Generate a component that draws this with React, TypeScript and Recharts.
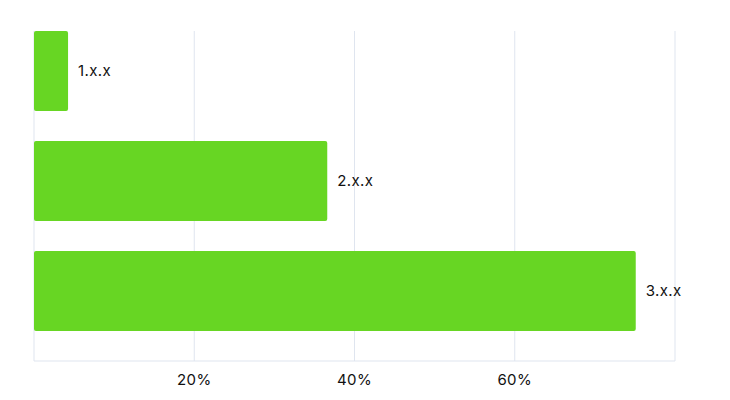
import React from 'react';
import { BarChart, Bar, XAxis, YAxis, CartesianGrid, LabelList } from 'recharts';

const versions = ['1.x.x', '2.x.x', '3.x.x'];
const shares = [4.25, 36.6, 75.1];
const xTicks = [0, 20, 40, 60, 80];

const data = versions.map((version, i) => ({ version, share: shares[i] }));

const font = 'Inter, "Noto Sans", sans-serif';

export default function App() {
  return (
    <div style={{ position: 'absolute', left: 0, top: 0, background: '#fff' }}>
      <BarChart
        width={730}
        height={400}
        data={data}
        layout="vertical"
        margin={{ top: 31, right: 55, left: 34, bottom: 9 }}
      >
        <CartesianGrid horizontal={false} stroke="#dfe5ef" />
        <XAxis
          type="number"
          domain={[0, 80]}
          ticks={xTicks}
          height={30}
          tickSize={0}
          tickMargin={13}
          axisLine={{ stroke: '#dfe5ef' }}
          tickFormatter={(v: number) => (v === 0 || v === 80 ? '' : `${v}%`)}
          tick={{ fill: '#111', fontSize: 15, fontFamily: font, letterSpacing: 0.4 }}
        />
        <YAxis
          type="category"
          dataKey="version"
          hide
          width={0}
          padding={{ top: -15, bottom: 15 }}
        />
        <Bar dataKey="share" fill="#67d623" barSize={80} radius={2} isAnimationActive={false}>
          <LabelList
            dataKey="version"
            position="right"
            offset={10}
            fill="#111"
            fontSize={15}
            fontFamily={font}
            letterSpacing={0.4}
          />
        </Bar>
      </BarChart>
    </div>
  );
}
